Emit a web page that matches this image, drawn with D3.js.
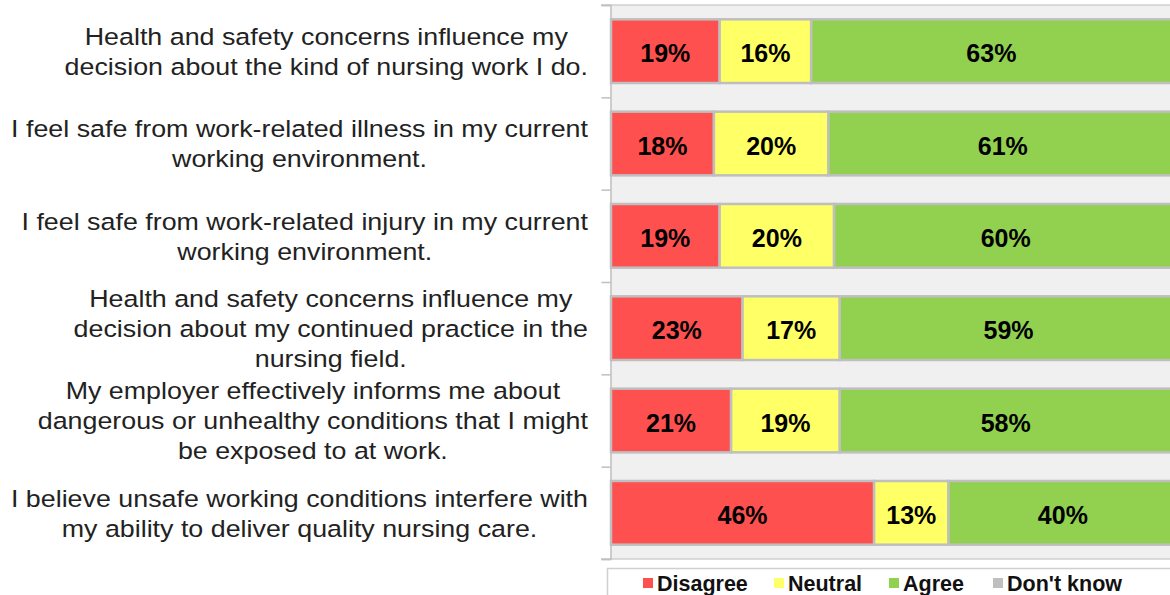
<!DOCTYPE html>
<html>
<head>
<meta charset="utf-8">
<script src="https://cdn.jsdelivr.net/npm/d3@7"></script>
<style>
  body { margin: 0; background: #fff; }
  svg { display: block; font-family: "Liberation Sans", Arial, sans-serif; }
</style>
</head>
<body>
<svg width="1170" height="595"></svg>
<script>
// survey statements, one entry per row (lines as wrapped in the original)
let statements = [
    ["Health and safety concerns influence my", "decision about the kind of nursing work I do."],
    ["I feel safe from work-related illness in my current", "working environment."],
    ["I feel safe from work-related injury in my current", "working environment."],
    ["Health and safety concerns influence my", "decision about my continued practice in the", "nursing field."],
    ["My employer effectively informs me about", "dangerous or unhealthy conditions that I might", "be exposed to at work."],
    ["I believe unsafe working conditions interfere with", "my ability to deliver quality nursing care."]
]

let answers = ["Disagree", "Neutral", "Agree", "Don't know"]

let disagree = [19, 18, 19, 23, 21, 46]
let neutral = [16, 20, 20, 17, 19, 13]
let agree = [63, 61, 60, 59, 58, 40]
let dontKnow = [2, 1, 1, 1, 2, 1]

let colors = ["#ff5050", "#ffff66", "#92d050", "#bfbfbf"]

const svg = d3.select("svg")

const rows = statements.map((s, i) => ({
    id: i,
    "Disagree": disagree[i],
    "Neutral": neutral[i],
    "Agree": agree[i],
    "Don't know": dontKnow[i]
}))

const stacked = d3.stack().keys(answers)(rows)

const x = d3.scaleLinear()
    .domain([0, 100])
    .range([611, 1183])

const y = d3.scaleBand()
    .domain(d3.range(statements.length))
    .range([5, 559])
    .paddingInner(0.31)
    .paddingOuter(0.155)

// boundaries between categories, for the tick marks
const yEdge = d3.scaleLinear()
    .domain([0, statements.length])
    .range([5, 559])

// plot area background
svg.append("rect")
    .attr("x", 611)
    .attr("y", 5)
    .attr("width", 600)
    .attr("height", 554)
    .attr("fill", "#f0f0f0")

// horizontal border lines top & bottom of plot area
svg.selectAll(".edge")
    .data([0, statements.length])
    .enter()
    .append("line")
    .attr("x1", 601)
    .attr("x2", 1170)
    .attr("y1", d => yEdge(d))
    .attr("y2", d => yEdge(d))
    .attr("stroke", "#d0d0d0")
    .attr("stroke-width", 1.5)

const axis = svg.append("g")
    .attr("transform", "translate(610.5,0)")
    .call(d3.axisLeft(yEdge).ticks(statements.length).tickSize(9).tickFormat(""))
axis.selectAll("line").attr("stroke", "#bfbfbf").attr("stroke-width", 1.5)
axis.select(".domain").attr("stroke", "#bfbfbf").attr("stroke-width", 1.5)

const series = svg.selectAll(".series")
    .data(stacked)
    .enter()
    .append("g")
    .attr("fill", (d, i) => colors[i])

series.selectAll("rect")
    .data(d => d)
    .enter()
    .append("rect")
    .attr("x", d => x(d[0]))
    .attr("y", (d, i) => y(i))
    .attr("width", d => x(d[1]) - x(d[0]))
    .attr("height", y.bandwidth())
    .attr("stroke", "#bfbfbf")
    .attr("stroke-width", 2.5)

series.filter((d, i) => i < 3)
    .selectAll("text")
    .data(d => d)
    .enter()
    .append("text")
    .attr("x", d => (x(d[0]) + x(d[1])) / 2)
    .attr("y", (d, i) => y(i) + y.bandwidth() / 2 + 2)
    .attr("dy", "0.36em")
    .attr("text-anchor", "middle")
    .attr("font-size", 25)
    .attr("font-weight", "bold")
    .attr("fill", "#000")
    .text(d => (d[1] - d[0]) + "%")

// category labels: lines centred in a block that is right aligned at 588
// (original text is slightly stretched horizontally)
const lineHeight = 30
const stretch = 1.095
const labels = svg.selectAll(".label")
    .data(statements)
    .enter()
    .append("text")
    .attr("class", "label")
    .attr("font-size", 24.5)
    .attr("fill", "#222")
    .attr("text-anchor", "middle")
    .attr("transform", "translate(588,0) scale(" + stretch + ",1)")

labels.each(function(lines, i) {
    const t = d3.select(this)
    const cy = y(i) + y.bandwidth() / 2
    const top = cy - (lines.length - 1) * lineHeight / 2
    const spans = t.selectAll("tspan")
        .data(lines)
        .enter()
        .append("tspan")
        .attr("y", (d, j) => top + j * lineHeight)
        .attr("dy", "0.36em")
        .text(d => d)
    let maxW = 0
    spans.each(function() { maxW = Math.max(maxW, this.getComputedTextLength()) })
    spans.attr("x", -maxW / 2)
})

// legend
svg.append("rect")
    .attr("x", 607.5)
    .attr("y", 568.5)
    .attr("width", 600)
    .attr("height", 60)
    .attr("fill", "#fff")
    .attr("stroke", "#d0d0d0")
    .attr("stroke-width", 1.5)

let legendX = [643, 774, 889, 993]
answers.forEach((a, i) => {
    svg.append("rect")
        .attr("x", legendX[i])
        .attr("y", 578)
        .attr("width", 10)
        .attr("height", 10)
        .attr("fill", colors[i])
    svg.append("text")
        .attr("x", legendX[i] + 14)
        .attr("y", 591)
        .attr("font-size", 21.5)
        .attr("font-weight", "bold")
        .attr("fill", "#111")
        .text(a)
})
</script>
</body>
</html>
